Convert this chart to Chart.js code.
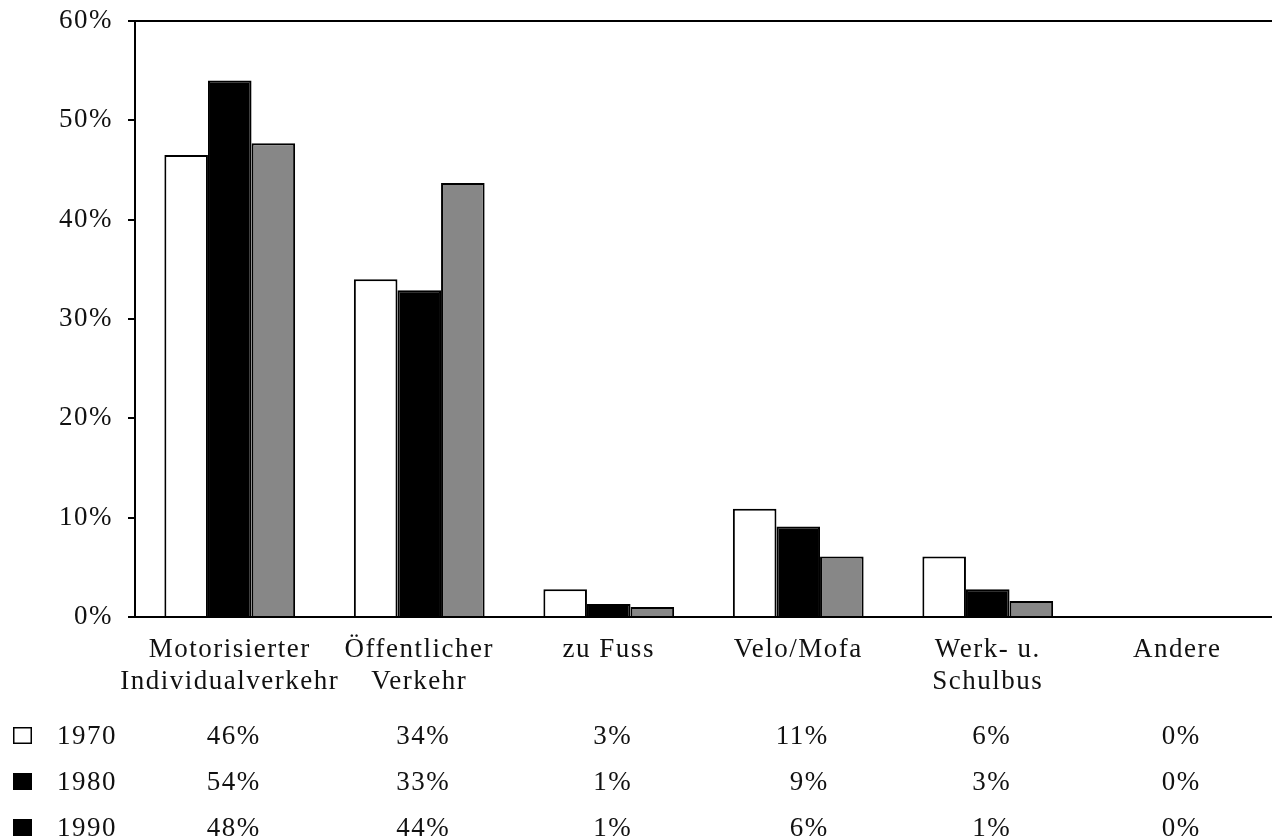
<!DOCTYPE html>
<html>
<head>
<meta charset="utf-8">
<script src="https://cdn.jsdelivr.net/npm/chart.js@4/dist/chart.umd.min.js"></script>
<style>
  html, body { margin: 0; padding: 0; background: #ffffff; }
  #wrap { width: 1272px; height: 840px; position: relative; }
</style>
</head>
<body>
<div id="wrap"><canvas id="c" width="1272" height="840"></canvas></div>
<script>
const categories = [['Motorisierter', 'Individualverkehr'], ['Öffentlicher', 'Verkehr'], 'zu Fuss', 'Velo/Mofa', ['Werk- u.', 'Schulbus'], 'Andere'];
const years = ['1970', '1980', '1990'];
const values1970 = [46.5, 34, 2.8, 10.9, 6.1, 0];
const values1980 = [54, 32.9, 1.3, 9.1, 2.8, 0];
const values1990 = [47.7, 43.7, 1.0, 6.1, 1.6, 0];
const table1970 = ['46%', '34%', '3%', '11%', '6%', '0%'];
const table1980 = ['54%', '33%', '1%', '9%', '3%', '0%'];
const table1990 = ['48%', '44%', '1%', '6%', '1%', '0%'];
const yTickLabels = ['0%', '10%', '20%', '30%', '40%', '50%', '60%'];

const FONT = "'Liberation Serif', 'Times New Roman', serif";
const FSIZE = 27;
const SPACING = '1.5px';
const TXT = '#111111';
const barFill = ['#ffffff', '#000000', '#878787'];
const legendFill = ['#ffffff', '#000000', '#000000'];

const spacingPlugin = {
  id: 'spacing',
  beforeDraw(chart) { chart.ctx.letterSpacing = SPACING; }
};

const tablePlugin = {
  id: 'table',
  afterDraw(chart) {
    const ctx = chart.ctx;
    const xs = chart.scales.x;
    const rows = [table1970, table1980, table1990];
    const baselines = [744, 790, 836];
    ctx.save();
    ctx.letterSpacing = SPACING;
    ctx.font = FSIZE + 'px ' + FONT;
    ctx.fillStyle = TXT;
    ctx.textBaseline = 'alphabetic';
    rows.forEach((row, r) => {
      const by = baselines[r];
      ctx.fillStyle = legendFill[r];
      ctx.fillRect(13, by - 17, 19, 17);
      ctx.strokeStyle = '#000';
      ctx.lineWidth = 1.5;
      ctx.strokeRect(13.75, by - 16.25, 17.5, 15.5);
      ctx.fillStyle = TXT;
      ctx.textAlign = 'left';
      ctx.fillText(years[r], 57, by);
    });
    for (let i = 0; i < categories.length; i++) {
      const cx = xs.getPixelForValue(i);
      let maxW = 0;
      rows.forEach(row => { maxW = Math.max(maxW, ctx.measureText(row[i]).width); });
      const right = cx + maxW / 2 + 4;
      ctx.textAlign = 'right';
      rows.forEach((row, r) => ctx.fillText(row[i], right, baselines[r]));
    }
    ctx.restore();
  }
};

new Chart(document.getElementById('c'), {
  type: 'bar',
  data: {
    labels: categories,
    datasets: [
      { label: years[0], data: values1970, backgroundColor: barFill[0], borderColor: '#000', borderWidth: 2 },
      { label: years[1], data: values1980, backgroundColor: barFill[1], borderColor: '#000', borderWidth: 2 },
      { label: years[2], data: values1990, backgroundColor: barFill[2], borderColor: '#000', borderWidth: 2 }
    ]
  },
  options: {
    responsive: false,
    animation: false,
    devicePixelRatio: 1,
    layout: { padding: { top: 21, left: 0, right: 0, bottom: 0 } },
    datasets: { bar: { categoryPercentage: 0.69, barPercentage: 1.0 } },
    plugins: { legend: { display: false }, tooltip: { enabled: false } },
    scales: {
      x: {
        grid: { display: false },
        border: { display: false },
        ticks: { color: TXT, font: { family: FONT, size: FSIZE, lineHeight: 1.185 }, padding: 9, maxRotation: 0, autoSkip: false },
        afterFit(scale) { scale.height = 223; scale.paddingLeft = 0; scale.paddingRight = 0; }
      },
      y: {
        min: 0, max: 60,
        ticks: {
          stepSize: 10, color: TXT, padding: 15,
          font: { family: FONT, size: FSIZE },
          callback: (v) => yTickLabels[Math.round(v / 10)]
        },
        grid: {
          color: (c) => (c.tick && (c.tick.value === 0 || c.tick.value === 60)) ? '#000' : 'rgba(0,0,0,0)',
          tickColor: '#000', lineWidth: 2, tickLength: 7, drawTicks: true
        },
        border: { display: true, color: '#000', width: 2 },
        afterFit(scale) { scale.width = 135; scale.paddingTop = 0; scale.paddingBottom = 0; }
      }
    }
  },
  plugins: [spacingPlugin, tablePlugin]
});
</script>
</body>
</html>
